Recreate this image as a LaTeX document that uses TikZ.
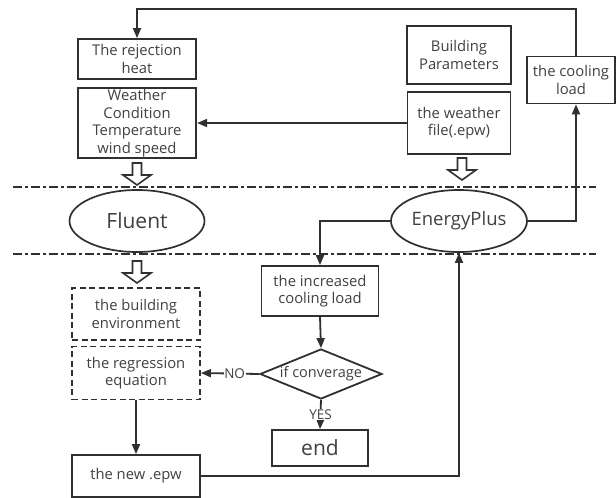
\documentclass[tikz,border=0pt]{standalone}
\usepackage{fontspec}
\setmainfont{Open Sans}
\usetikzlibrary{shapes.geometric,arrows.meta,calc}
\definecolor{ln}{HTML}{303030}
\definecolor{tx}{HTML}{404040}
\tikzset{
  box/.style={draw=ln, line width=1.8pt, rectangle, inner sep=1pt, align=center, text=tx, font=\fontsize{14.8}{17.5}\selectfont},
  dbox/.style={box, dashed, dash pattern=on 6pt off 3.5pt},
  oval/.style={draw=ln, line width=1.7pt, ellipse, inner sep=0pt, text=tx, font=\fontsize{21}{24}\selectfont},
  arr/.style={draw=ln, line width=1.8pt, -{Triangle[length=10pt,width=8pt]}},
  sep/.style={draw=ln, line width=1.6pt, dash pattern=on 9pt off 3pt on 3pt off 3pt},
  hollow/.style={draw=ln, line width=1.6pt, fill=white, line join=miter},
  lbl/.style={fill=white, inner sep=0.5pt, text=tx, font=\fontsize{13.5}{15}\selectfont}
}
\newcommand\hollowdown[2]{\draw[hollow] ({#1-4.5},#2) -- ({#1+4.5},#2) -- ({#1+4.5},{#2+12}) -- ({#1+14},{#2+12}) -- (#1,{#2+22}) -- ({#1-14},{#2+12}) -- ({#1-4.5},{#2+12}) -- cycle;}
\begin{document}
\begin{tikzpicture}[x=1pt,y=-1pt]
\useasboundingbox (0,0) rectangle (616,498);
% separators
\draw[sep] (13,187) -- (596,187);
\draw[sep] (13,254) -- (596,254);
% nodes
\node[box, minimum width=118pt, minimum height=40pt] (rej) at (137,59) {The rejection\\heat};
\node[box, line width=2.2pt, minimum width=118pt, minimum height=70pt] (wc) at (137,123) {Weather\\Condition\\Temperature\\wind speed};
\node[box, minimum width=104pt, minimum height=58pt] (bp) at (459,55) {Building\\Parameters};
\node[box, minimum width=103pt, minimum height=62pt] (wf) at (459,123) {the weather\\file(.epw)};
\node[box, minimum width=88pt, minimum height=47pt] (cool) at (571,80) {the cooling\\load};
\node[oval, minimum width=135pt, minimum height=62pt] (fl) at (137,221) {\makebox[0pt]{Fluent}};
\node[oval, font=\fontsize{18.5}{22}\selectfont, minimum width=136pt, minimum height=62pt] (ep) at (459,221) {\makebox[0pt]{EnergyPlus}};
\node[box, minimum width=117pt, minimum height=50pt] (inc) at (320,291) {the increased\\cooling load};
\node[draw=ln, line width=1.8pt, diamond, aspect=2.44, minimum width=122pt, minimum height=50pt, inner sep=0pt, text=tx, font=\fontsize{14.5}{16}\selectfont] (dia) at (321,374) {if converage};
\node[box, font=\fontsize{21}{24}\selectfont, minimum width=96pt, minimum height=36pt] (end) at (320,448) {end};
\node[dbox, minimum width=128pt, minimum height=52pt] (env) at (136,314) {the building\\environment};
\node[dbox, minimum width=128pt, minimum height=53pt] (reg) at (136,373) {the regression\\equation};
\node[box, minimum width=128pt, minimum height=42pt] (new) at (136,476) {the new .epw};
\coordinate (top) at (576,9);
% connectors
\draw[arr] (cool.north -| top) -- (top) -| (rej.north);
\draw[arr] (wf.west |- wc.east) -- (wc.east);
\draw[arr] (ep.east) -| (cool.south -| top);
\draw[arr] (ep.west) -| (inc.north);
\draw[arr] (inc.south) -- (dia.north);
\draw[arr] (dia.west) -- node[lbl, pos=0.42] {NO} (reg.east);
\draw[arr] (dia.south) -- node[lbl, pos=0.5] {YES} (end.north);
\draw[arr] (reg.south) -- (new.north);
\draw[arr] (new.east) -| (ep.south);
% hollow arrows
\hollowdown{137}{163}
\hollowdown{462}{158}
\hollowdown{137}{261}
\end{tikzpicture}
\end{document}
